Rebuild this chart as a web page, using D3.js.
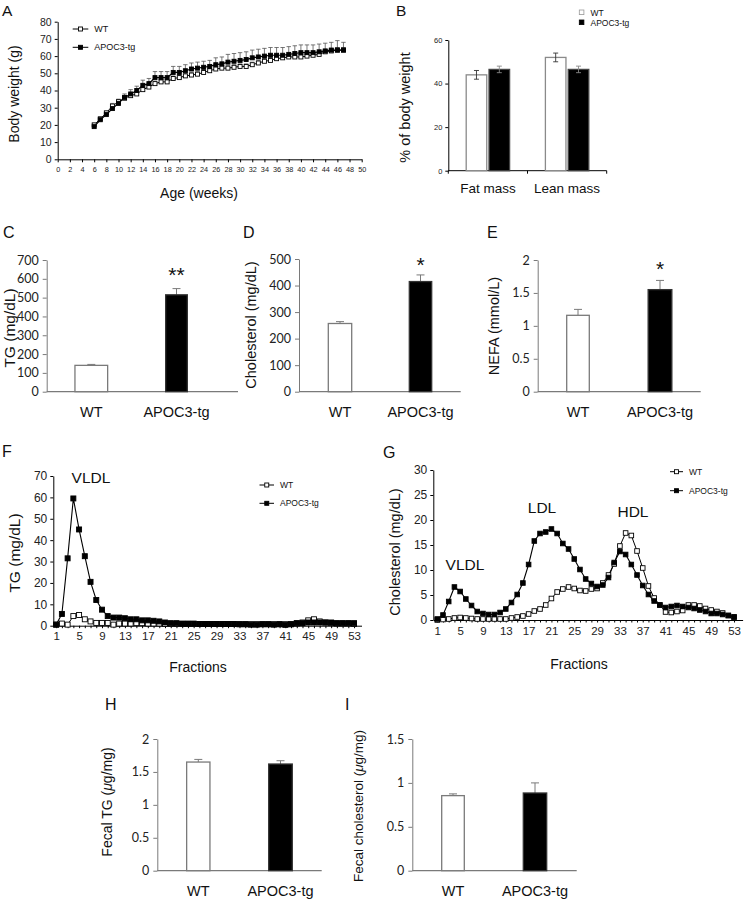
<!DOCTYPE html>
<html><head><meta charset="utf-8">
<script src="https://cdn.jsdelivr.net/npm/d3@7"></script>
<style>
body{margin:0;background:#fff}
svg text{font-family:"Liberation Sans",Arial,sans-serif;fill:#111}
</style></head>
<body><svg id="c" width="745" height="899"></svg>
<script>
// ---------------- DATA ----------------
const weeks = [6,7,8,9,10,11,12,13,14,15,16,17,18,19,20,21,22,23,24,25,26,27,28,29,30,31,32,33,34,35,36,37,38,39,40,41,42,43,44,45,46,47];
const bwWT = [20,23.5,27,31,33.5,35.5,37,38,40.5,42,44,45,45,47,47.5,48.5,49,49.5,50.5,51.5,52.5,53,53,53.5,54,54,55,56,57,57.5,58.5,59,59.5,59.5,59.5,60,60.5,61,62.5,63,63.5,63.5];
const bwWTErr = [1,1,1,1.5,1.5,1.5,1.5,1.5,1.5,1.5,1.5,1.5,1.5,1.5,1.5,1.5,1.5,1.5,1.5,1.5,1.5,1.5,1.5,1.5,1.5,1.5,1.5,1.5,1.5,1.5,1.5,1.5,1.5,1.5,1.5,1.5,1.5,1.5,1.5,1.5,1.5,1.5];
const bwTg = [19,23,26,29.5,32.5,36,38,40,43,44,47.5,47.5,47.5,50.5,50.5,51.5,52.5,53,53.5,54,55,55.5,56.5,57,57.5,58,59,59.5,60,60.5,60.5,60.5,61,61.5,62,62,62,62.5,63,63.5,63.5,63.5];
const bwTgErr = [1,1.5,1.5,2,2,2,2.5,2.5,3,3,3.5,3.5,3.5,3.5,3.5,3.5,3.5,3.5,3.5,3.5,4,4,4.5,4.5,4.5,4.5,4.5,4.5,4.5,4.5,4.5,4.5,4.5,4.5,4.5,4.5,4.5,4.5,4.5,4.5,5.5,4.5];
const ageTicks = [0,2,4,6,8,10,12,14,16,18,20,22,24,26,28,30,32,34,36,38,40,42,44,46,48,50];
const bwTicks = [0,10,20,30,40,50,60,70,80];

const compCats = ["Fat mass","Lean mass"];
const groups = ["WT","APOC3-tg"];
const compWT = [44,52];
const compWTErr = [2,2];
const compTg = [46.5,46.5];
const compTgErr = [1.5,1.5];
const compTicks = [0,20,40,60];

const categories = ["WT","APOC3-tg"];
const tgVals = [140,515];
const tgErrs = [5,33];
const tgTicks = [0,100,200,300,400,500,600,700];
const cholVals = [257,415];
const cholErrs = [7,25];
const cholTicks = [0,100,200,300,400,500];
const nefaVals = [1.16,1.55];
const nefaErrs = [0.09,0.14];
const nefaTicks = [0,0.5,1,1.5,2];
const fecalTGVals = [1.65,1.62];
const fecalTGErrs = [0.04,0.05];
const fecalTGTicks = [0,0.5,1,1.5,2];
const fecalCholVals = [0.855,0.885];
const fecalCholErrs = [0.02,0.115];
const fecalCholTicks = [0,0.5,1,1.5];

const fractions = [1,2,3,4,5,6,7,8,9,10,11,12,13,14,15,16,17,18,19,20,21,22,23,24,25,26,27,28,29,30,31,32,33,34,35,36,37,38,39,40,41,42,43,44,45,46,47,48,49,50,51,52,53];
const fracLabels = [1,5,9,13,17,21,25,29,33,37,41,45,49,53];
const fpTGWT = [0.5,1,0.5,4.5,5,3,2,1.3,1.3,1.3, 0.5,1,1,1,1.2,1.2,1,1,1,0.8, 0.8,0.8,0.8,0.8,0.8,0.8,0.8,0.8,0.8,0.8, 0.8,0.8,0.7,0.7,0.7,0.7,0.7,0.7,0.7,0.7, 0.7,0.7,1,1.5,2.5,3,2,1.5,1.2,1, 1,1,0.8];
const fpTGTg = [0.5,5.5,31.5,59.5,45,32.5,20.5,12,7.5,4.5, 3.8,3.8,3.5,3,3,2.5,2.5,2.3,2,1.5, 1.2,1.2,1,1,1,0.8,0.8,0.8,0.8,0.8, 0.8,0.8,0.7,0.7,0.5,0.5,0.7,0.7,0.5,0.7, 0.4,0.7,1.2,1.2,1.5,1.5,1.5,1.5,1.5,1.2, 1.2,1.2,1.2];
const fpTGTicks = [0,10,20,30,40,50,60,70];
const fpCholWT = [0,0.1,0.2,0.4,0.5,0.4,0.3,0.2,0.2,0.2, 0.2,0.2,0.2,0.4,0.6,0.8,1.2,1.8,2.2,3.0, 4.3,5.6,6.2,6.6,6.3,5.9,5.8,6.2,6.3,7.4, 9.0,11.2,14.8,17.4,16.9,13.8,10.4,6.8,4.4,3.0, 1.6,1.5,1.7,1.9,3.0,3.0,2.8,2.3,2.0,1.7, 1.4,0.9,0.6];
const fpCholTg = [0.2,1.0,3.7,6.6,5.7,4.2,2.9,1.7,1.3,1.1, 1.1,1.5,2.2,3.5,5.1,7.4,11.1,15.8,17.3,17.6, 18.2,17.3,15.3,14.2,12.2,10.1,8.2,7.3,6.7,7.0, 8.5,11.5,13.7,13.1,11.1,9.0,6.9,5.1,3.8,3.0, 2.5,2.7,2.9,2.7,2.5,2.3,2.0,1.7,1.3,1.3, 1.1,0.9,0.6];
const fpCholTicks = [0,5,10,15,20,25,30];

// ---------------- HELPERS ----------------
const svg = d3.select("#c");
function text(x,y,s,o={}){
  const t = svg.append("text").attr("x",x).attr("y",y).text(s)
    .attr("font-size",o.size||14).attr("text-anchor",o.anchor||"start");
  if(o.rot) t.attr("transform",`rotate(-90,${x},${y})`);
  if(o.db) t.attr("dominant-baseline",o.db);
  if(o.fill) t.style("fill",o.fill);
  if(o.family) t.style("font-family",o.family);
  return t;
}
function richRot(x,y,parts,size){
  const t = svg.append("text").attr("x",x).attr("y",y).attr("font-size",size)
    .attr("text-anchor","middle").attr("dominant-baseline","central")
    .attr("transform",`rotate(-90,${x},${y})`);
  parts.forEach(p=>{ const s=t.append("tspan").text(p.t); if(p.i) s.attr("font-style","italic"); });
}
function styleAxis(ax,color,fs,family){
  ax.select(".domain").attr("stroke",color);
  ax.selectAll(".tick line").attr("stroke",color);
  ax.selectAll(".tick text").attr("font-size",fs).style("fill","#222");
  if(family) ax.selectAll(".tick text").style("font-family",family);
}
function squares(g,data,xS,yS,size,fill){
  g.selectAll(null).data(data).join("rect")
    .attr("x",d=>xS(d[0])-size/2).attr("y",d=>yS(d[1])-size/2)
    .attr("width",size).attr("height",size)
    .attr("fill",fill).attr("stroke","#000").attr("stroke-width",0.9);
}
function legendLine(x1,x2,y,fill,label,size,fs){
  svg.append("line").attr("x1",x1).attr("x2",x2).attr("y1",y).attr("y2",y).attr("stroke","#000");
  svg.append("rect").attr("x",(x1+x2)/2-size/2).attr("y",y-size/2).attr("width",size).attr("height",size)
    .attr("fill",fill).attr("stroke","#000").attr("stroke-width",0.9);
  text(x2+6,y,label,{size:fs,db:"central"});
}

// ---------------- PANEL A ----------------
(function(){
  const x = d3.scaleLinear().domain([0,50]).range([57.7,361.7]);
  const y = d3.scaleLinear().domain([0,80]).range([159.3,21.7]);
  const ay = svg.append("g").attr("transform",`translate(${x(0)},0)`)
    .call(d3.axisLeft(y).tickValues(bwTicks).tickSize(3).tickSizeOuter(0).tickPadding(3));
  styleAxis(ay,"#000",10.5);
  const ax = svg.append("g").attr("transform",`translate(0,${y(0)})`)
    .call(d3.axisBottom(x).tickValues(ageTicks).tickSize(3).tickSizeOuter(0).tickPadding(5));
  styleAxis(ax,"#000",7.3);
  const g = svg.append("g");
  const wt = weeks.map((w,i)=>[w,bwWT[i],bwWTErr[i]]);
  const tg = weeks.map((w,i)=>[w,bwTg[i],bwTgErr[i]]);
  [[wt,"#777"],[tg,"#555"]].forEach(([d,c])=>{
    g.selectAll(null).data(d).join("path")
      .attr("d",p=>`M${x(p[0])},${y(p[1])}V${y(p[1]+p[2])}M${x(p[0])-2.2},${y(p[1]+p[2])}H${x(p[0])+2.2}`)
      .attr("stroke",c).attr("stroke-width",0.8).attr("fill","none");
  });
  const line = d3.line().x(d=>x(d[0])).y(d=>y(d[1]));
  g.append("path").attr("d",line(wt)).attr("fill","none").attr("stroke","#000").attr("stroke-width",1);
  g.append("path").attr("d",line(tg)).attr("fill","none").attr("stroke","#000").attr("stroke-width",1.2);
  squares(g,wt,x,y,4,"#fff");
  squares(g,tg,x,y,4,"#000");
  legendLine(72.7,88.3,29,"#fff","WT",4,9);
  legendLine(72.7,88.3,47.3,"#000","APOC3-tg",4,9);
  text(13.5,94,"Body weight (g)",{size:14,rot:true,anchor:"middle",db:"central"});
  text(199,198,"Age (weeks)",{size:14,anchor:"middle"});
  text(2,16,"A",{size:15.5});
})();

// ---------------- PANEL B ----------------
(function(){
  const x = d3.scaleBand().domain(compCats).range([448.3,606.7]);
  const xi = d3.scaleBand().domain(groups).range([-21.7,21.7]).paddingInner(0.1);
  const y = d3.scaleLinear().domain([0,60]).range([170.7,40]);
  const ay = svg.append("g").attr("transform",`translate(448.3,0)`)
    .call(d3.axisLeft(y).tickValues(compTicks).tickSize(3).tickSizeOuter(0).tickPadding(3));
  styleAxis(ay,"#000",7.5);
  svg.append("line").attr("x1",448.3).attr("x2",606.7).attr("y1",y(0)).attr("y2",y(0)).attr("stroke","#000");
  [448.3, (x(compCats[0])+x.bandwidth()), 606.7].forEach(v=>{
    svg.append("line").attr("x1",v).attr("x2",v).attr("y1",y(0)).attr("y2",y(0)+3).attr("stroke","#000");
  });
  const rows = [];
  compCats.forEach((c,i)=>{
    rows.push({c,s:groups[0],v:compWT[i],e:compWTErr[i]});
    rows.push({c,s:groups[1],v:compTg[i],e:compTgErr[i]});
  });
  const cx = d=>x(d.c)+x.bandwidth()/2+xi(d.s)+xi.bandwidth()/2;
  svg.selectAll(null).data(rows).join("rect")
    .attr("x",d=>x(d.c)+x.bandwidth()/2+xi(d.s)).attr("width",xi.bandwidth())
    .attr("y",d=>y(d.v)).attr("height",d=>y(0)-y(d.v))
    .attr("fill",d=>d.s==="WT"?"#fff":"#000")
    .attr("stroke",d=>d.s==="WT"?"#8a8a8a":"#444").attr("stroke-width",1.3);
  svg.selectAll(null).data(rows).join("path")
    .attr("d",d=>`M${cx(d)},${y(d.v-d.e)}V${y(d.v+d.e)}M${cx(d)-2.5},${y(d.v+d.e)}H${cx(d)+2.5}M${cx(d)-2.5},${y(d.v-d.e)}H${cx(d)+2.5}`)
    .attr("stroke",d=>d.s==="WT"?"#333":"#888").attr("stroke-width",0.9).attr("fill","none");
  compCats.forEach(c=>text(x(c)+x.bandwidth()/2,193,c,{size:13.5,anchor:"middle"}));
  // legend
  groups.forEach((s,i)=>{
    svg.append("rect").attr("x",579.3).attr("y",10+i*10).attr("width",4.6).attr("height",4.6)
      .attr("fill",i?"#000":"#fff").attr("stroke",i?"#000":"#999").attr("stroke-width",0.8);
    text(590.5,12.6+i*10.4,s,{size:8.5,db:"central"});
  });
  text(404.5,107.5,"% of body weight",{size:14.5,rot:true,anchor:"middle",db:"central"});
  text(396,16,"B",{size:15.5});
})();

// ---------------- BAR PANELS C, D, E, H, I ----------------
function barPanel(cfg){
  const x = d3.scalePoint().domain(categories).range(cfg.centers);
  const y = d3.scaleLinear().domain(cfg.domain).range(cfg.yRange);
  const ay = svg.append("g").attr("transform",`translate(${cfg.axis[0]},0)`)
    .call(d3.axisLeft(y).tickValues(cfg.ticks).tickSize(4).tickSizeOuter(0).tickPadding(4).tickFormat(d3.format("~g")));
  styleAxis(ay,"#7a7a7a",12.5,"Lato, 'Open Sans', sans-serif");
  svg.append("line").attr("x1",cfg.axis[0]).attr("x2",cfg.axis[1]).attr("y1",y(0)).attr("y2",y(0))
    .attr("stroke","#7a7a7a").attr("stroke-width",1.2);
  const rows = categories.map((c,i)=>({c,v:cfg.vals[i],e:cfg.errs[i],w:cfg.widths[i],i}));
  svg.selectAll(null).data(rows).join("path")
    .attr("d",d=>`M${x(d.c)},${y(d.v)}V${y(d.v+d.e)}M${x(d.c)-4},${y(d.v+d.e)}H${x(d.c)+4}`)
    .attr("stroke","#7a7a7a").attr("stroke-width",1).attr("fill","none");
  svg.selectAll(null).data(rows).join("rect")
    .attr("x",d=>x(d.c)-d.w/2).attr("width",d=>d.w)
    .attr("y",d=>y(d.v)).attr("height",d=>y(0)-y(d.v))
    .attr("fill",d=>d.i?"#000":"#fff").attr("stroke",d=>d.i?"#333":"#7a7a7a").attr("stroke-width",1.3);
  categories.forEach(c=>text(x(c),cfg.catY,c,{size:14.5,anchor:"middle"}));
  if(cfg.star) text(x(categories[1]),cfg.starY,cfg.star,{size:21,anchor:"middle"});
  if(cfg.titleParts) richRot(cfg.title[0],cfg.title[1],cfg.titleParts,cfg.titleSize||14.5);
  else text(cfg.title[0],cfg.title[1],cfg.titleText,{size:cfg.titleSize||14.5,rot:true,anchor:"middle",db:"central"});
  text(cfg.letter[0],cfg.letter[1],cfg.letter[2],{size:16});
}
barPanel({vals:tgVals,errs:tgErrs,domain:[0,700],yRange:[391.7,260],ticks:tgTicks,axis:[46.7,238],
  centers:[91.3,176.5],widths:[32.7,21.7],catY:417,star:"**",starY:282,title:[9,328],titleText:"TG (mg/dL)",titleSize:15.5,letter:[3,238,"C"]});
barPanel({vals:cholVals,errs:cholErrs,domain:[0,500],yRange:[391.7,259],ticks:cholTicks,axis:[299,460.7],
  centers:[340,420.5],widths:[23.4,22.4],catY:417,star:"*",starY:272,title:[251,325],titleText:"Cholesterol (mg/dL)",titleSize:14.5,letter:[243,238,"D"]});
barPanel({vals:nefaVals,errs:nefaErrs,domain:[0,2],yRange:[391.7,260],ticks:nefaTicks,axis:[537.7,700.7],
  centers:[578,660],widths:[22.6,23.7],catY:417,star:"*",starY:276,title:[494,326],titleText:"NEFA (mmol/L)",titleSize:14.5,letter:[487,238,"E"]});
barPanel({vals:fecalTGVals,errs:fecalTGErrs,domain:[0,2],yRange:[870.7,739],ticks:fecalTGTicks,axis:[157.3,321.7],
  centers:[198.3,280.5],widths:[23.3,23.6],catY:896,title:[107,802],titleParts:[{t:"Fecal TG ("},{t:"μ",i:true},{t:"g/mg)"}],titleSize:14,letter:[105,710,"H"]});
barPanel({vals:fecalCholVals,errs:fecalCholErrs,domain:[0,1.5],yRange:[870.7,739],ticks:fecalCholTicks,axis:[412.3,576.7],
  centers:[453,535],widths:[22.6,23.4],catY:896,title:[358,806],titleParts:[{t:"Fecal cholesterol ("},{t:"μ",i:true},{t:"g/mg)"}],titleSize:13.5,letter:[345,710,"I"]});

// ---------------- FPLC PANELS F, G ----------------
function fplcPanel(cfg){
  const x = d3.scaleLinear().domain(cfg.xDomain).range(cfg.xRange);
  const y = d3.scaleLinear().domain(cfg.yDomain).range(cfg.yRange);
  const ay = svg.append("g").attr("transform",`translate(${cfg.xRange[0]},0)`)
    .call(d3.axisLeft(y).tickValues(cfg.yTicks).tickSize(3).tickSizeOuter(0).tickPadding(3));
  styleAxis(ay,"#000",12);
  const ax = svg.append("g").attr("transform",`translate(0,${y(0)})`)
    .call(d3.axisBottom(x).tickValues(fractions).tickSize(2.5).tickSizeOuter(0).tickPadding(4)
      .tickFormat(d=>fracLabels.includes(d)?d:""));
  styleAxis(ax,"#000",11.5);
  const g = svg.append("g");
  const line = d3.line().x(d=>x(d[0])).y(d=>y(d[1]));
  const wt = fractions.map((f,i)=>[f,cfg.wt[i]]);
  const tg = fractions.map((f,i)=>[f,cfg.tg[i]]);
  g.append("path").attr("d",line(wt)).attr("fill","none").attr("stroke","#000").attr("stroke-width",1);
  g.append("path").attr("d",line(tg)).attr("fill","none").attr("stroke","#000").attr("stroke-width",1.1);
  squares(g,wt,x,y,cfg.ms,"#fff");
  squares(g,tg,x,y,cfg.ms,"#000");
  legendLine(cfg.leg[0],cfg.leg[1],cfg.leg[2],"#fff","WT",4,8.5);
  legendLine(cfg.leg[0],cfg.leg[1],cfg.leg[3],"#000","APOC3-tg",4,8.5);
  cfg.notes.forEach(n=>text(n[0],n[1],n[2],{size:15.5,anchor:"middle",db:"central"}));
  text(cfg.title[0],cfg.title[1],cfg.titleText,{size:cfg.titleSize,rot:true,anchor:"middle",db:"central"});
  text(cfg.xTitle[0],cfg.xTitle[1],"Fractions",{size:14,anchor:"middle",db:"central"});
  text(cfg.letter[0],cfg.letter[1],cfg.letter[2],{size:16});
}
fplcPanel({wt:fpTGWT,tg:fpTGTg,xDomain:[0.5,54.3],xRange:[53.3,361.5],yDomain:[0,70],yRange:[625.7,476],yTicks:fpTGTicks,
  ms:5,leg:[259.5,274,485,503.3],notes:[[91,477,"VLDL"]],title:[14,553],titleText:"TG (mg/dL)",titleSize:15.5,
  xTitle:[198,667],letter:[2,457,"F"]});
fplcPanel({wt:fpCholWT,tg:fpCholTg,xDomain:[0.3,54.5],xRange:[433.3,742.6],yDomain:[0,30],yRange:[620,470],yTicks:fpCholTicks,
  ms:4.6,leg:[670,683,471.7,490.7],notes:[[542,507,"LDL"],[633,511,"HDL"],[465,564,"VLDL"]],title:[395,552],titleText:"Cholesterol (mg/dL)",titleSize:14.5,
  xTitle:[579,664],letter:[383,458,"G"]});
</script>
</body></html>
